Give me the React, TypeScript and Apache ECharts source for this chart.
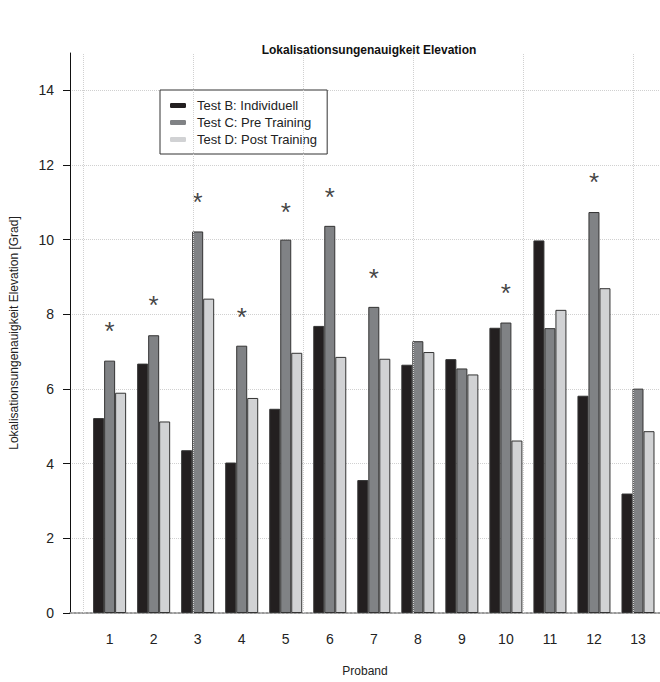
import React, { useEffect, useRef } from "react";
import * as echarts from "echarts";

const probands = [1, 2, 3, 4, 5, 6, 7, 8, 9, 10, 11, 12, 13];
const testB = [5.22, 6.68, 4.36, 4.03, 5.47, 7.69, 3.56, 6.65, 6.8, 7.64, 9.98, 5.82, 3.2];
const testC = [6.76, 7.44, 10.22, 7.16, 10.0, 10.37, 8.2, 7.28, 6.55, 7.78, 7.63, 10.74, 6.01];
const testD = [5.9, 5.13, 8.42, 5.76, 6.97, 6.86, 6.81, 6.99, 6.39, 4.62, 8.12, 8.7, 4.87];
const starProbands = [1, 2, 3, 4, 5, 6, 7, 10, 12];
const starHeights = [7.72, 8.41, 11.18, 8.1, 10.91, 11.31, 9.14, 8.74, 11.71];
const verticalGrid = [0.39, 2.89, 5.39, 7.89, 10.39, 12.89];
const yTicks = [0, 2, 4, 6, 8, 10, 12, 14];

const FONT = "'Liberation Sans', Arial, sans-serif";

export default function App() {
  const ref = useRef<HTMLDivElement>(null);
  useEffect(() => {
    if (!ref.current) return;
    const chart = echarts.init(ref.current, undefined, { renderer: "svg" });
    const barSeries = (name: string, vals: number[], color: string) => ({
      name,
      type: "bar",
      data: probands.map((p, i) => [p, vals[i]]),
      barWidth: 11,
      barGap: "0%",
      z: 3,
      itemStyle: { color, borderColor: "#333", borderWidth: 1 },
    });
    chart.setOption({
      animation: false,
      backgroundColor: "#fff",
      textStyle: { fontFamily: FONT },
      title: {
        text: "Lokalisationsungenauigkeit Elevation",
        left: 364,
        textAlign: "center",
        top: 39,
        textStyle: { fontSize: 12, fontWeight: "bold", color: "#111", fontFamily: FONT },
      },
      legend: {
        orient: "vertical",
        left: 160,
        top: 90,
        backgroundColor: "#fff",
        borderColor: "#333",
        borderWidth: 1,
        borderRadius: 0,
        padding: [9, 10, 8, 10],
        itemGap: 4,
        itemWidth: 16,
        itemHeight: 5,
        icon: "roundRect",
        textStyle: { fontSize: 13, color: "#222", fontFamily: FONT, padding: [0, 0, 0, 6] },
        data: [
          { name: "Test B: Individuell", itemStyle: { color: "#231f20", borderWidth: 0 } },
          { name: "Test C: Pre Training", itemStyle: { color: "#808285", borderWidth: 0 } },
          { name: "Test D: Post Training", itemStyle: { color: "#d1d2d4", borderWidth: 0 } },
        ],
      },
      grid: { left: 70, top: 53, width: 595.6, height: 564 },
      xAxis: {
        type: "value",
        min: 0.1,
        max: 13.5,
        name: "Proband",
        nameLocation: "middle",
        nameGap: 52,
        nameTextStyle: { fontSize: 12, color: "#222", fontFamily: FONT },
        axisLine: { show: true, lineStyle: { color: "#999", type: "dotted", width: 2 } },
        axisTick: { show: false },
        splitLine: { show: false },
        axisLabel: {
          customValues: probands,
          fontSize: 14,
          color: "#222",
          margin: 19,
          fontFamily: FONT,
        },
      },
      yAxis: {
        type: "value",
        min: 0,
        max: 15,
        name: "Lokalisationsungenauigkeit Elevation [Grad]",
        nameLocation: "middle",
        nameGap: 50,
        nameTextStyle: { fontSize: 12, color: "#222", fontFamily: FONT },
        axisLine: { show: true, lineStyle: { color: "#111", width: 1 } },
        axisTick: { show: true, customValues: yTicks, length: 7, lineStyle: { color: "#111" } },
        axisLabel: { customValues: yTicks, fontSize: 14, color: "#222", margin: 16, fontFamily: FONT },
        splitLine: { show: true, lineStyle: { color: "#d0d0d0", type: "dotted", width: 1 } },
        interval: 2,
      },
      series: [
        {
          type: "line",
          data: [],
          z: 1,
          silent: true,
          markLine: {
            silent: true,
            symbol: ["none", "none"],
            label: { show: false },
            lineStyle: { color: "#d0d0d0", type: "dotted", width: 1 },
            data: verticalGrid.map((x) => ({ xAxis: x })),
          },
        },
        barSeries("Test B: Individuell", testB, "#231f20"),
        barSeries("Test C: Pre Training", testC, "#808285"),
        barSeries("Test D: Post Training", testD, "#d1d2d4"),
        {
          type: "scatter",
          data: starProbands.map((p, i) => [p, starHeights[i]]),
          symbolSize: 1,
          itemStyle: { color: "transparent" },
          silent: true,
          z: 4,
          label: {
            show: true,
            position: "inside",
            formatter: "*",
            fontSize: 26,
            color: "#111",
            offset: [0, 6],
            fontFamily: FONT,
          },
        },
      ],
    });
    return () => chart.dispose();
  }, []);
  return (
    <div
      ref={ref}
      style={{ position: "fixed", left: 0, top: 0, width: 660, height: 682, background: "#fff" }}
    />
  );
}
